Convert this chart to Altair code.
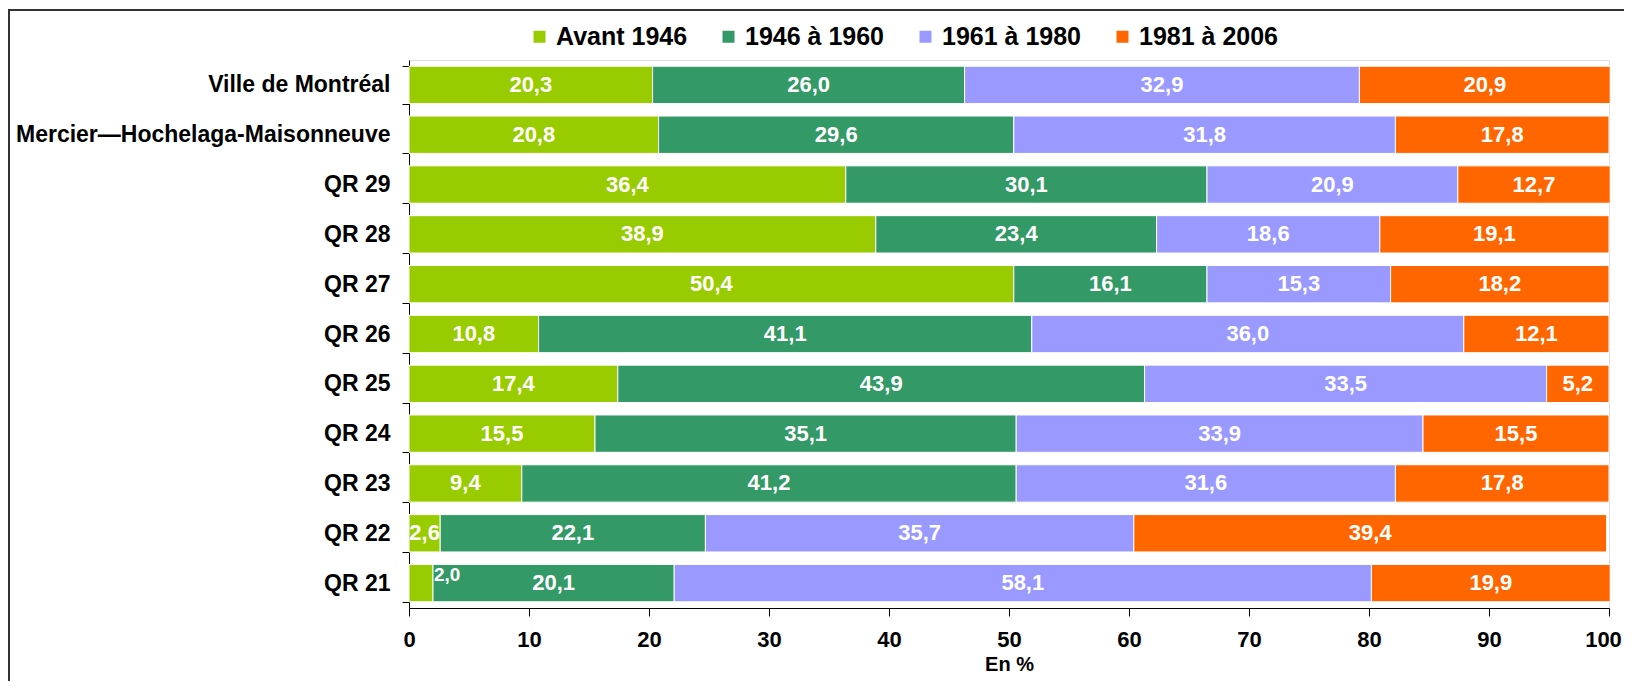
import altair as alt
import pandas as pd

categories = ["Ville de Montréal", "Mercier—Hochelaga-Maisonneuve", "QR 29", "QR 28",
              "QR 27", "QR 26", "QR 25", "QR 24", "QR 23", "QR 22", "QR 21"]
series = ["Avant 1946", "1946 à 1960", "1961 à 1980", "1981 à 2006"]
avant_1946 = [20.3, 20.8, 36.4, 38.9, 50.4, 10.8, 17.4, 15.5, 9.4, 2.6, 2.0]
p1946_1960 = [26.0, 29.6, 30.1, 23.4, 16.1, 41.1, 43.9, 35.1, 41.2, 22.1, 20.1]
p1961_1980 = [32.9, 31.8, 20.9, 18.6, 15.3, 36.0, 33.5, 33.9, 31.6, 35.7, 58.1]
p1981_2006 = [20.9, 17.8, 12.7, 19.1, 18.2, 12.1, 5.2, 15.5, 17.8, 39.4, 19.9]
colors = ["#99CC00", "#339966", "#9999FF", "#FF6600"]
x_ticks = [0, 10, 20, 30, 40, 50, 60, 70, 80, 90, 100]

rows = []
for s_i, (name, vals) in enumerate(zip(series, [avant_1946, p1946_1960, p1961_1980, p1981_2006])):
    for cat, v in zip(categories, vals):
        rows.append({"cat": cat, "period": name, "ord": s_i, "value": v})
df = pd.DataFrame(rows)

FONT = "Liberation Sans"

base = alt.Chart(df).transform_stack(
    stack="value", groupby=["cat"], sort=[alt.SortField("ord")], as_=["x0", "x1"]
).transform_calculate(
    mid="(datum.x0 + datum.x1) / 2",
    label="replace(format(datum.value, '.1f'), '.', ',')",
)

y_enc = alt.Y(
    "cat:N", sort=categories,
    scale=alt.Scale(paddingInner=0.25, paddingOuter=0.125),
    axis=alt.Axis(title=None, labelFont=FONT, labelFontSize=23, labelFontWeight="bold",
                  labelColor="black", tickSize=7, tickBand="extent", tickColor="black",
                  domainColor="black", labelPadding=12, grid=False, labelLimit=0),
)

bars = base.mark_bar(stroke="white", strokeWidth=1).encode(
    x=alt.X("x0:Q", scale=alt.Scale(domain=[0, 100], nice=False),
            axis=alt.Axis(values=x_ticks, title="En %", titleFont=FONT, titleFontSize=20,
                          titleFontWeight="bold", titleColor="black", titleY=62,
                          titleBaseline="alphabetic",
                          labelOffset={"condition": {"test": "datum.value == 100", "value": -6},
                                       "value": 0},
                          labelFont=FONT, labelFontSize=22, labelFontWeight="bold",
                          labelColor="black", labelBaseline="alphabetic", labelPadding=30,
                          tickSize=8, tickColor="black", domainColor="black", grid=False,
                          labelFlush=False, labelOverlap=False)),
    x2="x1:Q",
    y=y_enc,
    color=alt.Color("period:N", scale=alt.Scale(domain=series, range=colors),
                    legend=alt.Legend(title=None, orient="none", legendX=118, legendY=-36,
                                      direction="horizontal", columns=4,
                                      symbolType="square", symbolSize=144,
                                      symbolStrokeWidth=0, symbolOpacity=1,
                                      labelFont=FONT, labelFontSize=25, labelFontWeight="bold",
                                      labelColor="black", labelOffset=4, columnPadding=28,
                                      padding=0)),
)

labels_main = base.transform_filter("datum.value >= 2.3").mark_text(
    color="white", font=FONT, fontSize=22, fontWeight="bold", align="center", baseline="middle"
).encode(x="mid:Q", y=alt.Y("cat:N", sort=categories), text="label:N")

labels_small = base.transform_filter("datum.value < 2.3").mark_text(
    color="white", font=FONT, fontSize=19, fontWeight="bold", align="left", baseline="middle",
    dx=1, dy=-8
).encode(x="x1:Q", y=alt.Y("cat:N", sort=categories), text="label:N")

frame = alt.Chart(pd.DataFrame({"a": [0]})).mark_rect(
    fillOpacity=0, stroke="#333333", strokeWidth=2
).encode(x=alt.value(-400), x2=alt.value(1300), y=alt.value(-50), y2=alt.value(720))

chart = alt.layer(bars, labels_main, labels_small, frame).properties(
    width=1200, height=548,
    autosize=alt.AutoSizeParams(type="none"),
    padding={"left": 401, "top": 52, "right": 15, "bottom": 73},
).configure_view(stroke=None).configure(font=FONT)

chart.save("out.html", embed_options={"renderer": "svg", "actions": False})
